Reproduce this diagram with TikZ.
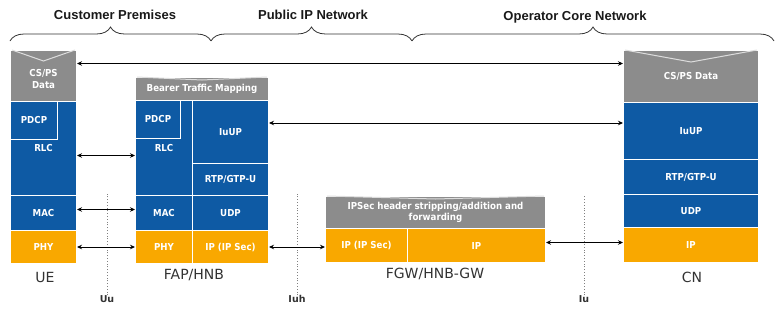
\documentclass[tikz,border=0pt]{standalone}
\usepackage{fontspec}
\setmainfont{DejaVu Sans}
\newfontfamily\headfont{Liberation Sans}
\newfontfamily\layerfont{DejaVu Sans}[FakeStretch=0.9]
\usetikzlibrary{arrows.meta,decorations.pathreplacing}
\definecolor{layblue}{RGB}{14,90,164}
\definecolor{layorange}{RGB}{249,168,0}
\definecolor{laygrey}{RGB}{140,140,140}
\definecolor{inklabel}{RGB}{50,50,50}
\begin{document}
\begin{tikzpicture}[x=1pt,y=-1pt,
  layer/.style={draw=white, line width=1pt, inner sep=0pt, anchor=north west,
    text=white, align=center, font=\layerfont\bfseries\fontsize{9.6}{11}\selectfont},
  bluebox/.style={layer, fill=layblue},
  orangebox/.style={layer, fill=layorange},
  greybox/.style={layer, fill=laygrey},
  boxtext/.style={text=white, align=center, inner sep=0pt, font=\layerfont\bfseries\fontsize{9.6}{12.5}\selectfont},
  chev/.style={draw=white!70!laygrey, line width=1pt},
  conn/.style={{Stealth[length=5pt,width=4.5pt]}-{Stealth[length=5pt,width=4.5pt]}, line width=0.9pt, black},
  entity/.style={text=inklabel, inner sep=0pt, font=\fontsize{14}{16}\selectfont},
  iface/.style={text=inklabel, inner sep=0pt, font=\bfseries\fontsize{9.5}{11}\selectfont},
  refline/.style={draw=gray, dotted, line width=0.8pt},
  zonehead/.style={text=black!90, inner sep=0pt, font=\headfont\bfseries\fontsize{13}{15}\selectfont},
  brc/.style={draw=black!80, line width=0.8pt, decorate, decoration={brace, amplitude=14pt}}
]
\useasboundingbox (0,0) rectangle (777,324);

% ---- domain braces and headings
\draw[brc] (10,41) -- (211,41);
\draw[brc] (211,41) -- (412,41);
\draw[brc] (412,41) -- (774,41);
\node[zonehead] (dcp) at (115,15) {Customer Premises};
\node[zonehead] (dpub) at (313,15) {Public IP Network};
\node[zonehead] (dop) at (575,17) {Operator Core Network};

% ---- UE protocol stack
\node[greybox, minimum width=66pt, minimum height=51pt] (uecs) at (10,50) {};
\draw[chev] ([xshift=2pt]uecs.north west) -- ([yshift=-11pt]uecs.north) -- ([xshift=-2pt]uecs.north east);
\node[boxtext] (uecstxt) at ([yshift=-3pt]uecs.center) {CS/PS\\Data};
\node[bluebox, minimum width=66pt, minimum height=94pt] (uerlc) at (10,101) {RLC};
\node[bluebox, minimum width=47pt, minimum height=38pt] (uepdcp) at (10,101) {PDCP};
\node[bluebox, minimum width=66pt, minimum height=35pt] (uemac) at (10,195) {MAC};
\node[orangebox, minimum width=66pt, minimum height=33pt] (uephy) at (10,230) {PHY};
\node[entity] (ue) at (45,277) {UE};

% ---- FAP/HNB protocol stack
\node[greybox, minimum width=133pt, minimum height=23pt] (fapbtm) at (135,77) {Bearer Traffic Mapping};
\draw[chev] ([xshift=2pt]fapbtm.north west) -- ([yshift=-3pt]fapbtm.north) -- ([xshift=-2pt]fapbtm.north east);
\node[bluebox, minimum width=57pt, minimum height=95pt] (faprlc) at (135,100) {RLC};
\node[bluebox, minimum width=45pt, minimum height=38pt] (fappdcp) at (135,100) {PDCP};
\node[bluebox, minimum width=76pt, minimum height=63pt] (fapiuup) at (192,100) {IuUP};
\node[bluebox, minimum width=76pt, minimum height=32pt] (faprtp) at (192,163) {RTP/GTP-U};
\node[bluebox, minimum width=57pt, minimum height=35pt] (fapmac) at (135,195) {MAC};
\node[bluebox, minimum width=76pt, minimum height=35pt] (fapudp) at (192,195) {UDP};
\node[orangebox, minimum width=57pt, minimum height=33pt] (fapphy) at (135,230) {PHY};
\node[orangebox, minimum width=76pt, minimum height=33pt] (fapip) at (192,230) {IP (IP Sec)};
\node[entity] (fap) at (194,275) {FAP/HNB};

% ---- FGW/HNB-GW protocol stack
\node[greybox, minimum width=220pt, minimum height=32pt] (fgwhdr) at (325,196) {IPSec header stripping/addition and\\forwarding};
\draw[chev] ([xshift=2pt]fgwhdr.north west) -- ([yshift=-3pt]fgwhdr.north) -- ([xshift=-2pt]fgwhdr.north east);
\node[orangebox, minimum width=82pt, minimum height=34pt] (fgwipsec) at (325,228) {IP (IP Sec)};
\node[orangebox, minimum width=138pt, minimum height=34pt] (fgwip) at (407,228) {IP};
\node[entity] (fgw) at (435,274) {FGW/HNB-GW};

% ---- CN protocol stack
\node[greybox, minimum width=135pt, minimum height=52pt] (cncs) at (623,50) {CS/PS Data};
\draw[chev] ([xshift=2pt]cncs.north west) -- ([yshift=-12pt]cncs.north) -- ([xshift=-2pt]cncs.north east);
\node[bluebox, minimum width=135pt, minimum height=57pt] (cniuup) at (623,102) {IuUP};
\node[bluebox, minimum width=135pt, minimum height=35pt] (cnrtp) at (623,159) {RTP/GTP-U};
\node[bluebox, minimum width=135pt, minimum height=33pt] (cnudp) at (623,194) {UDP};
\node[orangebox, minimum width=135pt, minimum height=35pt] (cnip) at (623,227) {IP};
\node[entity] (cn) at (692,277) {CN};

% ---- reference points
\node[iface] (uu) at (107,299) {Uu};
\node[iface] (iuh) at (297,299) {Iuh};
\node[iface] (iu) at (584,299) {Iu};
\draw[refline] (uu.north) -- ++(0,-102);
\draw[refline] (iuh.north) -- ++(0,-102);
\draw[refline] (iu.north) -- ++(0,-100);

% ---- peer-to-peer connectors
\draw[conn] ([yshift=12.5pt]uecs.east) -- ([yshift=12.5pt]uecs.east -| cncs.west);
\draw[conn] ([yshift=-7pt]uerlc.east) -- ([yshift=-7pt]uerlc.east -| faprlc.west);
\draw[conn] ([yshift=3.5pt]uemac.east) -- ([yshift=3.5pt]uemac.east -| fapmac.west);
\draw[conn] (uephy.east) -- (uephy.east -| fapphy.west);
\draw[conn] ([yshift=9pt]fapiuup.east) -- ([yshift=9pt]fapiuup.east -| cniuup.west);
\draw[conn] (fapip.east) -- (fapip.east -| fgwipsec.west);
\draw[conn] ([yshift=3pt]fgwip.east) -- ([yshift=3pt]fgwip.east -| cnip.west);
\end{tikzpicture}
\end{document}
